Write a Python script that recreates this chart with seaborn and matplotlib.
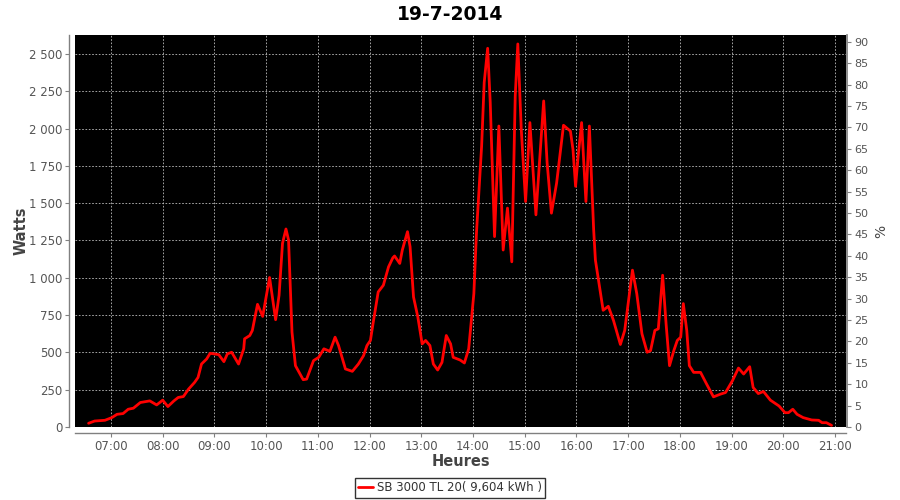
import matplotlib
matplotlib.use("Agg")
import matplotlib.pyplot as plt
import matplotlib.dates as mdates
from matplotlib.ticker import FixedLocator, FuncFormatter
from matplotlib.lines import Line2D
import seaborn as sns
import pandas as pd

title = "19-7-2014"
day = "2014-07-19"
series_label = "SB 3000 TL 20( 9,604 kWh )"

times = [
    "06:34", "06:41", "06:53", "07:01", "07:07", "07:14", "07:20", "07:26", "07:34", "07:45",
    "07:53", "08:00", "08:06", "08:13", "08:18", "08:24", "08:30", "08:37", "08:41", "08:45",
    "08:51", "08:55", "09:05", "09:11", "09:15", "09:20", "09:28", "09:34", "09:35", "09:41",
    "09:44", "09:50", "09:56", "10:04", "10:11", "10:15", "10:19", "10:23", "10:26", "10:30",
    "10:34", "10:43", "10:47", "10:55", "11:01", "11:07", "11:14", "11:20", "11:24", "11:32",
    "11:40", "11:47", "11:53", "11:57", "12:01", "12:04", "12:10", "12:16", "12:22", "12:27",
    "12:29", "12:35", "12:38", "12:44", "12:47", "12:51", "12:56", "13:01", "13:05", "13:10",
    "13:14", "13:19", "13:24", "13:29", "13:34", "13:37", "13:45", "13:50", "13:55", "14:01",
    "14:04", "14:10", "14:13", "14:17", "14:20", "14:25", "14:30", "14:35", "14:40", "14:45",
    "14:49", "14:52", "14:56", "15:01", "15:06", "15:13", "15:22", "15:26", "15:31", "15:37",
    "15:45", "15:53", "15:56", "15:59", "16:02", "16:06", "16:11", "16:15", "16:20", "16:22",
    "16:28", "16:31", "16:37", "16:43", "16:51", "16:56", "17:05", "17:10", "17:16", "17:22",
    "17:26", "17:31", "17:35", "17:40", "17:44", "17:48", "17:53", "17:57", "18:01", "18:04",
    "18:08", "18:11", "18:16", "18:24", "18:31", "18:39", "18:47", "18:53", "19:01", "19:08",
    "19:14", "19:21", "19:25", "19:31", "19:37", "19:45", "19:55", "20:02", "20:06", "20:11",
    "20:16", "20:23", "20:33", "20:41", "20:45", "20:50", "20:56",
]
watts = [
    25, 40, 45, 63, 85, 90, 119, 126, 164, 175,
    148, 180, 137, 175, 198, 204, 254, 299, 332, 422,
    456, 494, 485, 438, 490, 501, 422, 524, 591, 613,
    647, 822, 741, 1002, 719, 883, 1231, 1327, 1253, 636,
    411, 317, 321, 445, 467, 524, 507, 602, 546, 389,
    373, 422, 478, 546, 580, 692, 905, 950, 1073, 1134,
    1146, 1096, 1186, 1309, 1208, 871, 737, 557, 580, 546,
    422, 382, 433, 613, 557, 467, 449, 429, 524, 894,
    1298, 1882, 2309, 2538, 2175, 1276, 2017, 1186, 1467, 1107,
    2219, 2567, 1995, 1511, 2040, 1422, 2185, 1770, 1433, 1635,
    2022, 1983, 1860, 1613, 1815, 2040, 1511, 2017, 1321, 1119,
    894, 782, 809, 714, 553, 647, 1051, 894, 625, 501,
    512, 647, 658, 1017, 692, 411, 512, 580, 602, 827,
    647, 411, 366, 366, 288, 202, 220, 231, 310, 395,
    355, 404, 265, 224, 238, 180, 141, 96, 96, 119,
    85, 63, 47, 45, 29, 29, 11,
]
x_ticks = ["07:00", "08:00", "09:00", "10:00", "11:00", "12:00", "13:00",
           "14:00", "15:00", "16:00", "17:00", "18:00", "19:00", "20:00", "21:00"]
y_ticks = [0, 250, 500, 750, 1000, 1250, 1500, 1750, 2000, 2250, 2500]
pct_ticks = list(range(0, 95, 5))

df = pd.DataFrame({"t": pd.to_datetime([f"{day} {t}" for t in times]), "W": watts})

sns.set_theme(style="white")
plt.rcParams["font.family"] = ["DejaVu Sans"]

fig = plt.figure(figsize=(9, 5), dpi=100)
ax = fig.add_axes([75 / 900, 1 - 427 / 500, (846 - 75) / 900, (427 - 35) / 500])
ax.set_facecolor("black")

sns.lineplot(data=df, x="t", y="W", ax=ax, color="#ff0000", linewidth=2.0,
             sort=False, estimator=None)

xmin = pd.Timestamp(f"{day} 06:18:15")
xmax = pd.Timestamp(f"{day} 21:12:45")
ax.set_xlim(xmin, xmax)
ax.set_ylim(0, 2627)

ax.xaxis.set_major_locator(FixedLocator([mdates.date2num(pd.Timestamp(f"{day} {t}")) for t in x_ticks]))
ax.xaxis.set_major_formatter(mdates.DateFormatter("%H:%M"))
ax.yaxis.set_major_locator(FixedLocator(y_ticks))
ax.yaxis.set_major_formatter(FuncFormatter(lambda v, p: f"{v:,.0f}".replace(",", " ")))

grid_kw = dict(color="#bdbdbd", linestyle=(0, (2, 2)), linewidth=0.6)
ax.grid(True, **grid_kw)

gray = "#808080"
tick_col = "#555555"
for s in ["top", "right"]:
    ax.spines[s].set_visible(False)
ax.spines["left"].set_position(("outward", 4))
ax.spines["bottom"].set_position(("outward", 4))
for s in ["left", "bottom"]:
    ax.spines[s].set_color(gray)
    ax.spines[s].set_linewidth(1.0)
ax.tick_params(axis="both", which="major", direction="out", length=3, width=0.8,
               color=gray, labelcolor=tick_col, labelsize=8.5, pad=2,
               left=True, bottom=True)

ax.set_xlabel("Heures", fontsize=10.5, fontweight="bold", color="#444444", labelpad=1)
ax.set_ylabel("Watts", fontsize=10.5, fontweight="bold", color="#444444", labelpad=0)

ax2 = ax.twinx()
ax2.set_ylim(0, 91.6)
ax2.yaxis.set_major_locator(FixedLocator(pct_ticks))
ax2.grid(False)
for s in ["top", "left", "bottom"]:
    ax2.spines[s].set_visible(False)
ax2.spines["right"].set_position(("outward", 1))
ax2.spines["right"].set_color(gray)
ax2.tick_params(axis="y", direction="out", length=3, width=0.8, color=gray,
                labelcolor=tick_col, labelsize=8, pad=2, right=True)
ax2.set_ylabel("%", fontsize=10, color="#444444", labelpad=4)

fig.suptitle(title, x=0.5, y=0.99, fontsize=13.5, fontweight="bold", color="black")

handle = Line2D([], [], color="#ff0000", linewidth=2.0)
leg = fig.legend([handle], [series_label], loc="lower center", bbox_to_anchor=(0.5, 0.004),
                 frameon=True, fancybox=False, fontsize=8.5, handlelength=1.3,
                 handletextpad=0.3, borderpad=0.3, borderaxespad=0.0)
leg.get_frame().set_edgecolor("black")
leg.get_frame().set_linewidth(1.0)
for t in leg.get_texts():
    t.set_color("#333333")

fig.savefig("out.png", dpi=100, facecolor="white")
